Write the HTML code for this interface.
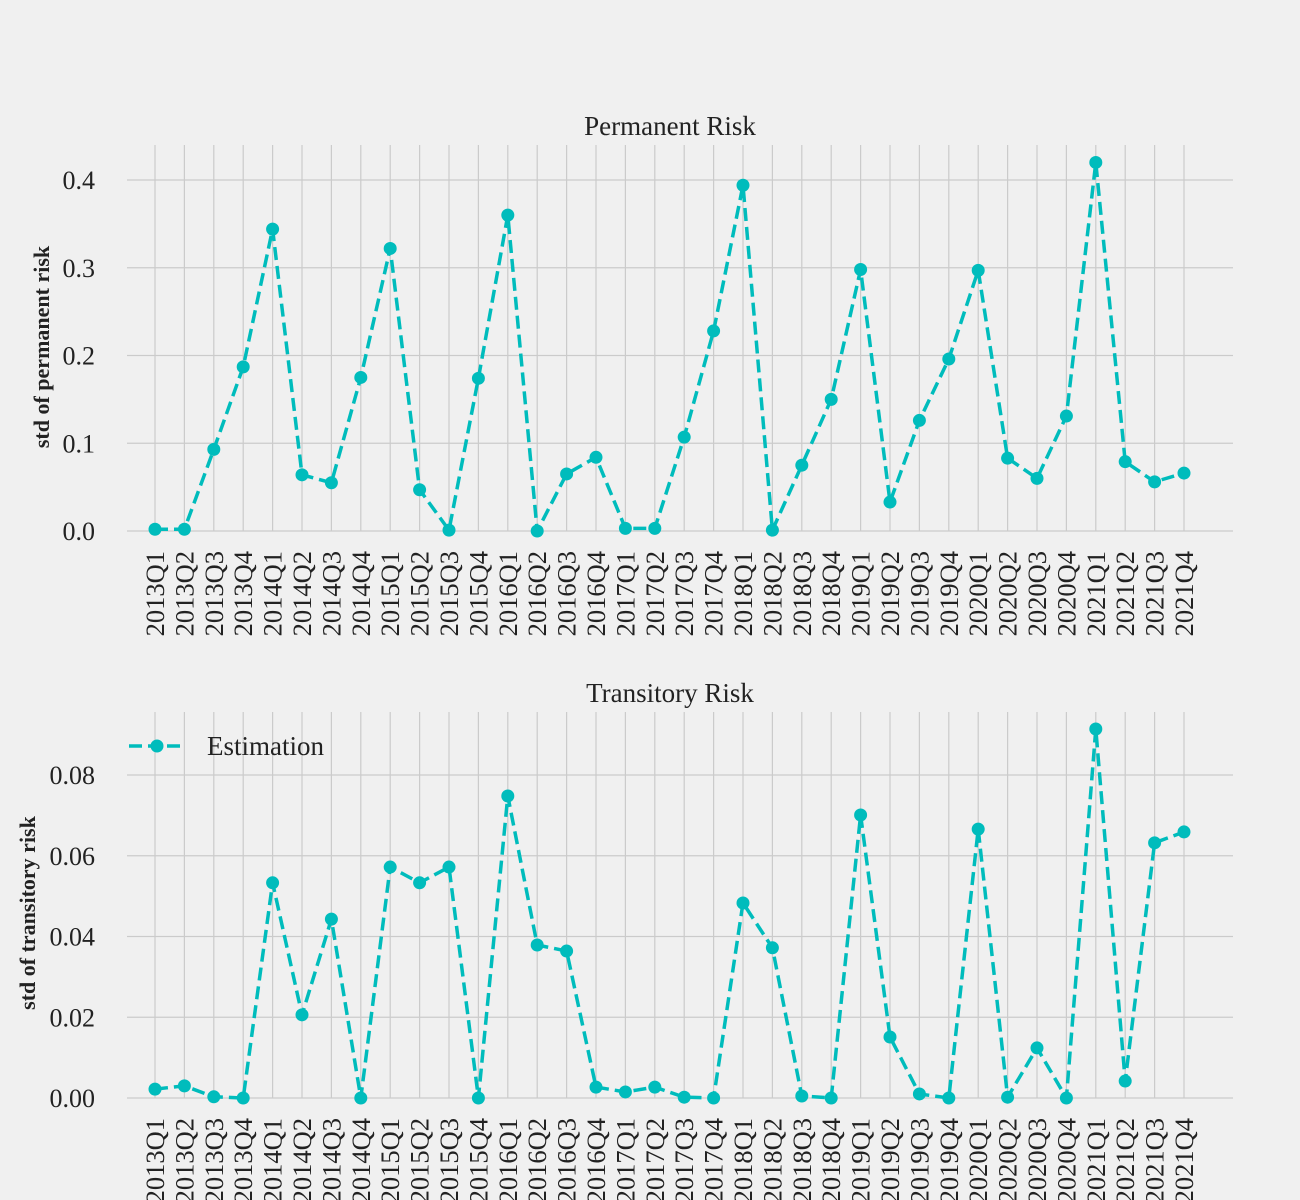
<!DOCTYPE html>
<html><head><meta charset="utf-8"><style>
html,body{margin:0;padding:0;background:#f0f0f0;}
svg{display:block;font-family:"Liberation Serif",serif;}
</style></head><body>
<svg id="chart" width="1300" height="1200"></svg>
<script>
const categories=["2013Q1","2013Q2","2013Q3","2013Q4","2014Q1","2014Q2","2014Q3","2014Q4","2015Q1","2015Q2","2015Q3","2015Q4","2016Q1","2016Q2","2016Q3","2016Q4","2017Q1","2017Q2","2017Q3","2017Q4","2018Q1","2018Q2","2018Q3","2018Q4","2019Q1","2019Q2","2019Q3","2019Q4","2020Q1","2020Q2","2020Q3","2020Q4","2021Q1","2021Q2","2021Q3","2021Q4"];
const permanentValues=[0.002,0.002,0.093,0.187,0.344,0.064,0.055,0.175,0.322,0.047,0.001,0.174,0.360,0.0,0.065,0.084,0.003,0.003,0.107,0.228,0.394,0.001,0.075,0.150,0.298,0.033,0.126,0.196,0.297,0.083,0.060,0.131,0.420,0.079,0.056,0.066];
const transitoryValues=[0.0022,0.003,0.0003,0,0.0533,0.0206,0.0443,0,0.0572,0.0533,0.0572,0,0.0748,0.0379,0.0364,0.0027,0.0015,0.0027,0.0002,0,0.0483,0.0372,0.0005,0,0.0701,0.0151,0.001,0,0.0666,0.0002,0.0124,0,0.0914,0.0042,0.0632,0.0659];
const permanentTicks=[0,0.1,0.2,0.3,0.4];
const permanentTickLabels=["0.0","0.1","0.2","0.3","0.4"];
const transitoryTicks=[0,0.02,0.04,0.06,0.08];
const transitoryTickLabels=["0.00","0.02","0.04","0.06","0.08"];

const NS="http://www.w3.org/2000/svg";
const svg=document.getElementById('chart');
function mk(tag,attrs,parent){const e=document.createElementNS(NS,tag);for(const k in attrs)e.setAttribute(k,attrs[k]);(parent||svg).appendChild(e);return e;}
const COLOR="#00bcbc";
function xScale(i){return 155+i*(1184-155)/(categories.length-1);}

function panel(cfg){
  const g=mk('g',{});
  
  
  const y=v=>cfg.y0+(cfg.y1-cfg.y0)*(v/cfg.v1);
  categories.forEach((c,i)=>{
    const l=mk('line',{x1:xScale(i),x2:xScale(i),y1:cfg.top,y2:cfg.y0,stroke:"#cbcbcb","stroke-width":1.2},g);
    
    
  });
  cfg.ticks.forEach((t,k)=>{
    const l=mk('line',{x1:127,x2:1233,y1:y(t),y2:y(t),stroke:"#cbcbcb","stroke-width":1.2},g);
    
    
    const tx=mk('text',{x:95,y:y(t)+9,"text-anchor":"end","font-size":26,fill:"#222"},g);
    tx.textContent=cfg.tickLabels[k];
    
    
  });
  categories.forEach((c,i)=>{
    const tx=mk('text',{x:0,y:0,"text-anchor":"end","font-size":26.5,fill:"#222",transform:`translate(${xScale(i)+9},${cfg.y0+20}) rotate(-90)`},g);
    tx.textContent=c;
    
    
  });
  const t=mk('text',{x:670,y:cfg.top-10,"text-anchor":"middle","font-size":27,fill:"#222"},g);
  t.textContent=cfg.title;
  
  
  const yl=mk('text',{x:0,y:0,"text-anchor":"middle","font-size":22,"font-weight":"bold",fill:"#222",transform:`translate(${cfg.ylx},${cfg.ylc}) rotate(-90)`},g);
  yl.textContent=cfg.ylabel;
  
  
  const pts=cfg.values.map((v,i)=>xScale(i)+","+y(v)).join(" ");
  const pl=mk('polyline',{points:pts,fill:"none",stroke:COLOR,"stroke-width":3.5,"stroke-dasharray":"13,6"},g);
  
  
  cfg.values.forEach((v,i)=>{
    const c=mk('circle',{cx:xScale(i),cy:y(v),r:6.5,fill:COLOR},g);
    
    
  });
  return g;
}
panel({name:'permanent-risk-panel',title:'Permanent Risk',ylabel:'std of permanent risk',top:145,y0:531,y1:180,v1:0.4,ticks:permanentTicks,tickLabels:permanentTickLabels,values:permanentValues,ylx:49,ylc:347});
panel({name:'transitory-risk-panel',title:'Transitory Risk',ylabel:'std of transitory risk',top:712,y0:1098,y1:775,v1:0.08,ticks:transitoryTicks,tickLabels:transitoryTickLabels,values:transitoryValues,ylx:35,ylc:913});

const lg=mk('g',{});


mk('line',{x1:129,x2:185,y1:746,y2:746,stroke:COLOR,"stroke-width":3.5,"stroke-dasharray":"13,6"},lg);
mk('circle',{cx:157,cy:746,r:6.5,fill:COLOR},lg);
const lt=mk('text',{x:207,y:755,"font-size":27,fill:"#222"},lg);
lt.textContent="Estimation";
</script>
</body></html>
